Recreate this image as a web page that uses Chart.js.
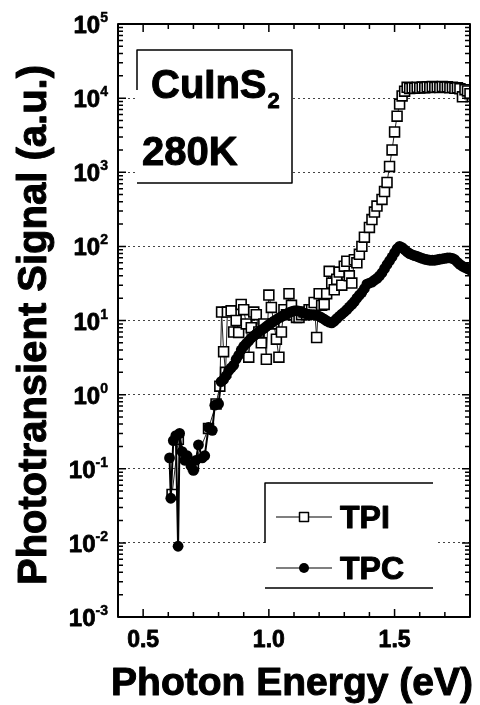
<!DOCTYPE html>
<html>
<head>
<meta charset="utf-8">
<title>CuInS2 phototransient spectra</title>
<script src="https://cdn.jsdelivr.net/npm/chart.js@4.4.1/dist/chart.umd.min.js"></script>
<style>
  html, body { margin: 0; padding: 0; background: #fff; }
  #wrap { width: 480px; height: 705px; }
</style>
</head>
<body>
<div id="wrap"><canvas id="spectraChart" width="480" height="705"></canvas></div>
<script>
// Transient photocurrent (TPC), photon energy in eV
const energyTPC = [
  0.605, 0.610, 0.620, 0.630, 0.639, 0.645, 0.655, 0.665, 0.675, 0.690,
  0.700, 0.710, 0.720, 0.735, 0.745, 0.760, 0.775, 0.785, 0.800,
  0.81, 0.82, 0.83, 0.84, 0.85, 0.86, 0.87, 0.88, 0.89, 0.90,
  0.91, 0.92, 0.93, 0.94, 0.95, 0.96, 0.97, 0.98, 0.99, 1.00,
  1.01, 1.02, 1.03, 1.04, 1.05, 1.06, 1.07, 1.08, 1.09, 1.10,
  1.11, 1.12, 1.13, 1.14, 1.15, 1.16, 1.17, 1.18, 1.19, 1.20,
  1.21, 1.22, 1.23, 1.24, 1.25, 1.26, 1.27, 1.28, 1.29, 1.30,
  1.31, 1.32, 1.33, 1.34, 1.35, 1.36, 1.37, 1.38, 1.39, 1.40,
  1.41, 1.42, 1.43, 1.44, 1.45, 1.46, 1.47, 1.48, 1.49, 1.50,
  1.51, 1.52, 1.53, 1.54, 1.55, 1.56, 1.57, 1.58, 1.59, 1.60,
  1.61, 1.62, 1.63, 1.64, 1.65, 1.66, 1.67, 1.68, 1.69, 1.70,
  1.71, 1.72, 1.73, 1.74, 1.75, 1.76, 1.77, 1.78, 1.79, 1.80
];
const signalTPC = [
  0.14, 0.040, 0.24, 0.28, 0.009, 0.30, 0.17, 0.13, 0.15, 0.11,
  0.095, 0.13, 0.21, 0.14, 0.15, 0.36, 0.33, 0.72, 0.75,
  1.5, 1.6, 1.8, 2.1, 2.3, 2.5, 3.0, 3.4, 4.0, 4.5,
  4.9, 5.3, 5.8, 6.2, 6.6, 7.0, 7.4, 7.8, 8.3, 8.8,
  9.3, 9.8, 10.3, 10.8, 11.3, 11.8, 12.3, 12.8, 13.2, 13.5,
  13.6, 13.4, 13.0, 12.6, 12.3, 12.1, 12.0, 12.0, 11.8, 11.4,
  10.9, 10.4, 9.9, 9.5, 9.3, 9.8, 10.6, 11.4, 12.2, 13.0,
  14.0, 15.2, 16.5, 18.0, 20, 22, 24, 27, 31, 32,
  33, 35, 37, 40, 44, 50, 57, 64, 72, 82,
  93, 100, 96, 90, 84, 80, 77, 75, 73, 71,
  69, 67, 66, 65, 65, 65, 66, 67, 68, 69,
  70, 70, 69, 66, 61, 57, 54, 52, 50, 48
];

// Transient photoionization (TPI)
const energyTPI = [
  0.615, 0.640, 0.700, 0.760, 0.790, 0.805, 0.812, 0.820, 0.828, 0.835,
  0.850, 0.860, 0.870, 0.880, 0.890, 0.900, 0.910, 0.920, 0.930, 0.940,
  0.950, 0.960, 0.970, 0.980, 0.990, 1.000, 1.010, 1.020, 1.030, 1.040,
  1.050, 1.060, 1.070, 1.080, 1.090, 1.100, 1.110, 1.120, 1.130, 1.140,
  1.150, 1.160, 1.170, 1.180, 1.190, 1.200, 1.210, 1.220, 1.230, 1.240,
  1.250, 1.260, 1.270, 1.280, 1.290, 1.300, 1.310, 1.320, 1.330, 1.340,
  1.350, 1.360, 1.370, 1.380, 1.400, 1.410, 1.420, 1.430, 1.450, 1.460,
  1.470, 1.480, 1.490, 1.500, 1.510, 1.520, 1.530, 1.540, 1.550, 1.560,
  1.570, 1.580, 1.590, 1.600, 1.610, 1.620, 1.630, 1.640, 1.650, 1.660,
  1.670, 1.680, 1.690, 1.700, 1.710, 1.720, 1.730, 1.740, 1.750, 1.760,
  1.770, 1.780, 1.790, 1.800
];
const signalTPI = [
  0.045, 0.25, 0.11, 0.35, 0.75, 1.3, 13, 3.8, 2.0, 13,
  13.5, 7, 10, 6.9, 16.5, 14, 9, 3.2, 8, 13,
  12, 7, 5, 9, 3.0, 22, 15, 9, 5.6, 3.2,
  7, 14, 12, 23, 16, 12, 11, 11, 12, 13,
  12, 14, 14, 17.5, 5.9, 23, 16, 16.5, 23, 46,
  32, 26, 36, 45, 30, 54, 63, 40, 32, 66,
  60, 78, 100, 133, 180, 230, 290, 350, 430, 550,
  730, 1200, 2000, 3500, 5700, 8300, 10700, 12400, 14000, 13500,
  13800, 13600, 14000, 13700, 14100, 13800, 14200, 13900, 14300, 14000,
  14200, 13900, 14300, 14100, 14200, 13800, 14000, 13600, 13800, 13400,
  10400, 13000, 12500, 11500
];

const yDecades = [-3, -2, -1, 0, 1, 2, 3, 4, 5];
const xTickValues = [0.5, 1.0, 1.5];
const xTickLabels = ['0.5', '1.0', '1.5'];
const seriesNames = ['TPI', 'TPC'];

const FONT = "'Liberation Sans', Arial, Helvetica, sans-serif";

function toPoints(xs, ys) {
  return xs.map(function(x, i) { return { x: x, y: ys[i] }; });
}

function isDecade(v) {
  const l = Math.log10(v);
  return Math.abs(l - Math.round(l)) < 1e-6;
}

// heavier bold text: fill plus a thin stroke of the same colour
function boldText(ctx, text, x, y, weight) {
  ctx.fillText(text, x, y);
  ctx.lineWidth = weight;
  ctx.strokeStyle = '#000';
  ctx.strokeText(text, x, y);
}

// Frame, inward ticks, tick labels, axis titles, text box and legend
const decorPlugin = {
  id: 'decor',
  afterDatasetsDraw(chart) {
    const ctx = chart.ctx;
    const a = chart.chartArea;
    const xs = chart.scales.x;
    const ys = chart.scales.y;

    ctx.save();
    ctx.lineJoin = 'round';

    // CuInS2 label box
    ctx.fillStyle = '#fff';
    ctx.fillRect(137, 50, 155, 133);
    ctx.strokeStyle = '#000';
    ctx.lineWidth = 1.5;
    ctx.beginPath();
    ctx.moveTo(137, 90); ctx.lineTo(137, 50); ctx.lineTo(292, 50);
    ctx.lineTo(292, 183); ctx.lineTo(137, 183);
    ctx.stroke();

    ctx.fillStyle = '#000';
    ctx.textAlign = 'left';
    ctx.textBaseline = 'alphabetic';
    ctx.font = 'bold 40px ' + FONT;
    boldText(ctx, 'CuInS', 151, 98, 1);
    const w = ctx.measureText('CuInS').width;
    ctx.font = 'bold 22px ' + FONT;
    boldText(ctx, '2', 151 + w + 1, 108, 0.8);
    ctx.font = 'bold 40px ' + FONT;
    boldText(ctx, '280K', 142, 165, 1);

    // legend box
    ctx.fillStyle = '#fff';
    ctx.fillRect(265, 483, 172, 105);
    ctx.strokeStyle = '#000';
    ctx.lineWidth = 1.5;
    ctx.beginPath();
    ctx.moveTo(265, 543); ctx.lineTo(265, 483); ctx.lineTo(433, 483);
    ctx.moveTo(265, 588); ctx.lineTo(433, 588);
    ctx.stroke();

    const legendRows = [517, 568];
    chart.data.datasets.forEach(function(ds) {
      const row = seriesNames.indexOf(ds.label);
      const ly = legendRows[row];
      ctx.strokeStyle = '#000';
      ctx.lineWidth = 1.2;
      ctx.beginPath();
      ctx.moveTo(276, ly); ctx.lineTo(332, ly);
      ctx.stroke();
      if (ds.pointStyle === 'rect') {
        ctx.fillStyle = '#fff';
        ctx.fillRect(299.5, ly - 4.5, 9, 9);
        ctx.lineWidth = 1.5;
        ctx.strokeRect(299.5, ly - 4.5, 9, 9);
      } else {
        ctx.fillStyle = '#000';
        ctx.beginPath();
        ctx.arc(304, ly, 5, 0, Math.PI * 2);
        ctx.fill();
      }
      ctx.fillStyle = '#000';
      ctx.font = 'bold 32px ' + FONT;
      ctx.textAlign = 'left';
      boldText(ctx, ds.label, 340, ly + 11, 1);
    });

    // frame
    ctx.strokeStyle = '#000';
    ctx.lineWidth = 2;
    ctx.strokeRect(a.left, a.top, a.right - a.left, a.bottom - a.top);

    // x ticks (bottom and top, pointing inward)
    ctx.lineWidth = 1.5;
    ctx.beginPath();
    for (let k = 4; k <= 18; k++) {
      const v = k / 10;
      const px = xs.getPixelForValue(v);
      if (px <= a.left + 1 || px >= a.right - 1) continue;
      const len = (k % 5 === 0) ? 8 : 5;
      ctx.moveTo(px, a.bottom); ctx.lineTo(px, a.bottom - len);
      ctx.moveTo(px, a.top); ctx.lineTo(px, a.top + len);
    }
    ctx.stroke();

    // y ticks (left and right, pointing inward)
    ctx.beginPath();
    for (let d = -3; d < 5; d++) {
      for (let m = 1; m <= 9; m++) {
        const py = ys.getPixelForValue(m * Math.pow(10, d));
        const len = (m === 1) ? 8 : 5;
        ctx.moveTo(a.left, py); ctx.lineTo(a.left + len, py);
        ctx.moveTo(a.right, py); ctx.lineTo(a.right - len, py);
      }
    }
    ctx.stroke();

    // y tick labels: 10 with superscript exponent
    ctx.fillStyle = '#000';
    yDecades.forEach(function(d) {
      const py = ys.getPixelForValue(Math.pow(10, d));
      const exp = String(d);
      ctx.font = 'bold 14px ' + FONT;
      const ew = ctx.measureText(exp).width;
      ctx.textAlign = 'right';
      boldText(ctx, exp, 108, py - 2, 0.5);
      ctx.font = 'bold 24px ' + FONT;
      boldText(ctx, '10', 108 - ew, py + 9, 0.8);
    });

    // x tick labels
    ctx.font = 'bold 23px ' + FONT;
    ctx.textAlign = 'center';
    xTickValues.forEach(function(v, i) {
      boldText(ctx, xTickLabels[i], xs.getPixelForValue(v), a.bottom + 30, 0.8);
    });

    // axis titles
    ctx.font = 'bold 39px ' + FONT;
    ctx.textAlign = 'center';
    boldText(ctx, 'Photon Energy (eV)', 292, 695, 1);

    ctx.save();
    ctx.translate(46, 325);
    ctx.rotate(-Math.PI / 2);
    ctx.font = 'bold 40px ' + FONT;
    boldText(ctx, 'Phototransient Signal (a.u.)', 0, 0, 1);
    ctx.restore();

    ctx.restore();
  }
};

new Chart(document.getElementById('spectraChart'), {
  type: 'scatter',
  data: {
    datasets: [
      {
        label: 'TPC',
        data: toPoints(energyTPC, signalTPC),
        showLine: true,
        borderColor: '#000',
        borderWidth: 2,
        backgroundColor: '#000',
        pointStyle: 'circle',
        pointRadius: 5.4,
        pointBorderWidth: 0,
        pointBackgroundColor: '#000'
      },
      {
        label: 'TPI',
        data: toPoints(energyTPI, signalTPI),
        showLine: true,
        borderColor: '#222',
        borderWidth: 1,
        backgroundColor: '#fff',
        pointStyle: 'rect',
        pointRadius: 7,
        pointBorderWidth: 1.6,
        pointBorderColor: '#000',
        pointBackgroundColor: '#fff'
      }
    ]
  },
  options: {
    responsive: false,
    animation: false,
    events: [],
    layout: { padding: { left: 118, top: 24, right: 10, bottom: 88 } },
    plugins: {
      legend: { display: false },
      tooltip: { enabled: false }
    },
    scales: {
      x: {
        type: 'linear',
        min: 0.4,
        max: 1.8,
        grid: { display: false, drawTicks: false },
        border: { display: false },
        ticks: { display: false }
      },
      y: {
        type: 'logarithmic',
        min: 1e-3,
        max: 1e5,
        grid: {
          drawTicks: false,
          lineWidth: 1,
          color: function(c) {
            const v = c.tick && c.tick.value;
            if (!v || !isDecade(v) || v <= 1e-3 || v >= 1e5) return 'rgba(0,0,0,0)';
            return '#444';
          }
        },
        border: { display: false, dash: [2, 3] },
        ticks: { display: false }
      }
    }
  },
  plugins: [decorPlugin]
});
</script>
</body>
</html>
